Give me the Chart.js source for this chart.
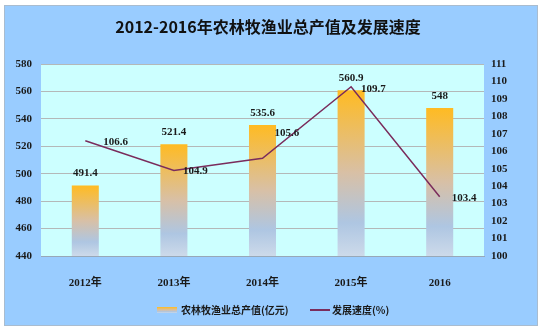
<!DOCTYPE html>
<html>
<head>
<meta charset="utf-8">
<script src="https://cdn.jsdelivr.net/npm/chart.js@4"></script>
<style>
  html, body { margin: 0; padding: 0; background: #ffffff; }
  #wrap { width: 544px; height: 334px; }
</style>
</head>
<body>
<div id="wrap"><canvas id="c" width="544" height="334"></canvas></div>
<script>
const categories = ['2012年', '2013年', '2014年', '2015年', '2016'];
const outputValues = [491.4, 521.4, 535.6, 560.9, 548];
const growthRates = [106.6, 104.9, 105.6, 109.7, 103.4];
const titleText = '2012-2016年农林牧渔业总产值及发展速度';
const legendLabels = ['农林牧渔业总产值(亿元)', '发展速度(%)'];

const tickFont = { family: '"Liberation Serif", "Noto Sans CJK SC", serif', size: 11, weight: 'bold' };
const labelFontStr = 'bold 11px "Liberation Serif", "Noto Sans CJK SC", serif';
const lineLabelOffsets = [[18, 1], [9, 1], [12, -25], [10, 2], [12, 2]];

function barGradient(chartCtx, top, bottom) {
  const g = chartCtx.createLinearGradient(0, top, 0, bottom);
  g.addColorStop(0, '#ffbb22');
  g.addColorStop(0.5, '#d8c0a6');
  g.addColorStop(0.8, '#aec6e2');
  g.addColorStop(1, '#cddaea');
  return g;
}

const decorPlugin = {
  id: 'decor',
  beforeDraw(chart) {
    const ctx = chart.ctx;
    const a = chart.chartArea;
    ctx.save();
    ctx.fillStyle = '#ffffff';
    ctx.fillRect(0, 0, chart.width, chart.height);
    ctx.fillStyle = '#99ccff';
    ctx.fillRect(4, 5, 534, 321);
    ctx.strokeStyle = '#a9bccf';
    ctx.lineWidth = 1;
    ctx.strokeRect(4.5, 5.5, 533, 320);
    ctx.fillStyle = '#ccffff';
    ctx.fillRect(a.left, a.top, a.right - a.left, a.bottom - a.top);
    // title
    ctx.fillStyle = '#111111';
    ctx.font = 'bold 16px "Noto Sans CJK SC", sans-serif';
    ctx.textAlign = 'center';
    ctx.textBaseline = 'middle';
    ctx.fillText(titleText, 268, 27);
    // legend
    ctx.fillStyle = barGradient(ctx, 307, 313);
    ctx.fillRect(157, 307, 20, 6);
    ctx.strokeStyle = '#7a2c5c';
    ctx.lineWidth = 2;
    ctx.beginPath();
    ctx.moveTo(310, 310);
    ctx.lineTo(330, 310);
    ctx.stroke();
    ctx.fillStyle = '#1a1a1a';
    ctx.font = 'bold 10px "Noto Sans CJK SC", sans-serif';
    ctx.textAlign = 'left';
    ctx.fillText(legendLabels[0], 181, 310);
    ctx.fillText(legendLabels[1], 332, 310);
    ctx.restore();
  },
  afterDatasetsDraw(chart) {
    const ctx = chart.ctx;
    ctx.save();
    ctx.fillStyle = '#1a1a1a';
    ctx.font = labelFontStr;
    ctx.textBaseline = 'middle';
    const barMeta = chart.getDatasetMeta(0);
    ctx.textAlign = 'center';
    barMeta.data.forEach((el, i) => {
      ctx.fillText(String(outputValues[i]), el.x, el.y - 12);
    });
    const lineMeta = chart.getDatasetMeta(1);
    ctx.textAlign = 'left';
    lineMeta.data.forEach((el, i) => {
      const o = lineLabelOffsets[i];
      ctx.fillText(growthRates[i].toFixed(1), el.x + o[0], el.y + o[1]);
    });
    ctx.restore();
  }
};

new Chart(document.getElementById('c'), {
  type: 'bar',
  data: {
    labels: categories,
    datasets: [
      {
        type: 'bar',
        label: legendLabels[0],
        data: outputValues,
        yAxisID: 'y',
        order: 1,
        barPercentage: 0.305,
        categoryPercentage: 1,
        backgroundColor(c) {
          const chart = c.chart;
          const area = chart.chartArea;
          if (!area || c.raw === undefined) return '#eec27a';
          const top = chart.scales.y.getPixelForValue(c.raw);
          return barGradient(chart.ctx, top, area.bottom);
        },
        borderWidth: 0
      },
      {
        type: 'line',
        label: legendLabels[1],
        data: growthRates,
        yAxisID: 'y1',
        order: 0,
        borderColor: '#7a2c5c',
        borderWidth: 1.5,
        pointRadius: 0,
        tension: 0,
        fill: false
      }
    ]
  },
  options: {
    responsive: false,
    animation: false,
    layout: { padding: { top: 64, left: 0, right: 0, bottom: 0 } },
    plugins: {
      legend: { display: false },
      title: { display: false },
      tooltip: { enabled: false }
    },
    scales: {
      x: {
        grid: { display: false },
        border: { display: true, color: '#98a8b8', width: 1 },
        ticks: { font: tickFont, color: '#1a1a1a', padding: 13, maxRotation: 0 },
        afterFit(s) { s.height = 78; }
      },
      y: {
        position: 'left',
        min: 440,
        max: 580,
        ticks: { stepSize: 20, font: tickFont, color: '#1a1a1a', padding: 9 },
        grid: { color: '#b4b8b8', drawTicks: false },
        border: { display: false },
        afterFit(s) { s.width = 41; }
      },
      y1: {
        position: 'right',
        min: 100,
        max: 111,
        ticks: { stepSize: 1, font: tickFont, color: '#1a1a1a', padding: 7 },
        grid: { display: false, drawTicks: false },
        border: { display: false },
        afterFit(s) { s.width = 60; }
      }
    }
  },
  plugins: [decorPlugin]
});
</script>
</body>
</html>
